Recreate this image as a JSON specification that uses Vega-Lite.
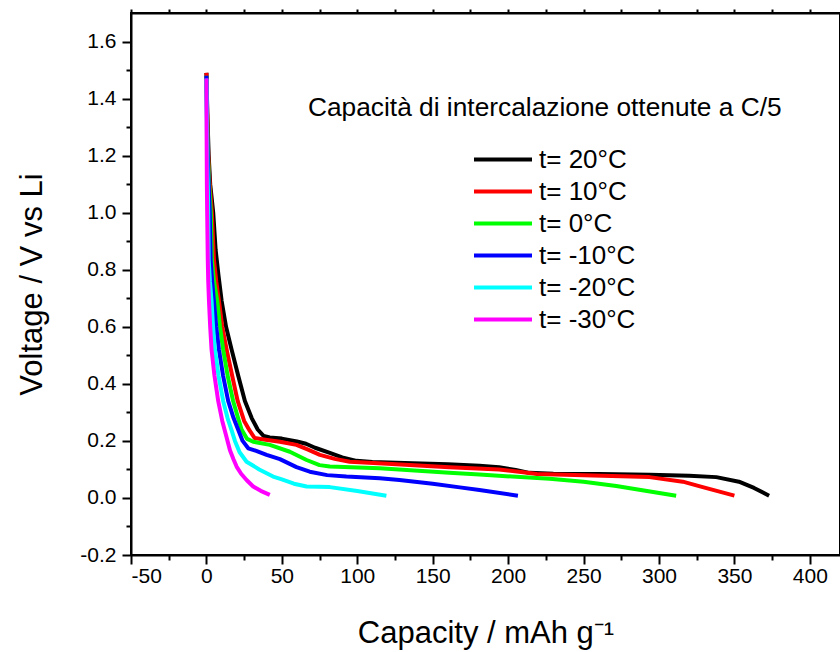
{
  "$schema": "https://vega.github.io/schema/vega-lite/v6.json",
  "width": 709,
  "height": 542,
  "autosize": {"type": "none"},
  "padding": {"left": 131, "top": 13, "right": 0, "bottom": 97},
  "background": "white",
  "config": {
    "view": {"stroke": "black", "strokeWidth": 2},
    "font": "Liberation Sans",
    "axis": {"grid": false, "domainColor": "black", "domainWidth": 2, "tickColor": "black", "tickWidth": 2, "labelColor": "black", "titleColor": "black", "labelFont": "Liberation Sans", "titleFont": "Liberation Sans", "titleFontWeight": "normal"}
  },
  "title": {"text": "Capacità di intercalazione ottenute a C/5", "anchor": "start", "frame": "group", "orient": "top", "offset": 0, "dx": 177, "dy": 134, "baseline": "alphabetic", "fontSize": 26.3, "fontWeight": "normal", "font": "Liberation Sans", "color": "black"},
  "data": {"values": [
    {"series": "t= 20°C", "capacity": 0, "voltage": 1.49},
    {"series": "t= 20°C", "capacity": 0.6, "voltage": 1.35},
    {"series": "t= 20°C", "capacity": 1.5, "voltage": 1.2},
    {"series": "t= 20°C", "capacity": 2.5, "voltage": 1.1},
    {"series": "t= 20°C", "capacity": 4.5, "voltage": 1.0},
    {"series": "t= 20°C", "capacity": 6.1, "voltage": 0.87},
    {"series": "t= 20°C", "capacity": 8, "voltage": 0.78},
    {"series": "t= 20°C", "capacity": 10.1, "voltage": 0.69},
    {"series": "t= 20°C", "capacity": 13, "voltage": 0.6},
    {"series": "t= 20°C", "capacity": 16.7, "voltage": 0.52},
    {"series": "t= 20°C", "capacity": 21, "voltage": 0.43},
    {"series": "t= 20°C", "capacity": 25.5, "voltage": 0.34},
    {"series": "t= 20°C", "capacity": 30, "voltage": 0.28},
    {"series": "t= 20°C", "capacity": 34, "voltage": 0.24},
    {"series": "t= 20°C", "capacity": 38, "voltage": 0.217},
    {"series": "t= 20°C", "capacity": 42, "voltage": 0.212},
    {"series": "t= 20°C", "capacity": 50, "voltage": 0.208},
    {"series": "t= 20°C", "capacity": 60, "voltage": 0.198},
    {"series": "t= 20°C", "capacity": 66, "voltage": 0.19},
    {"series": "t= 20°C", "capacity": 72, "voltage": 0.176},
    {"series": "t= 20°C", "capacity": 81.8, "voltage": 0.158},
    {"series": "t= 20°C", "capacity": 90, "voltage": 0.142},
    {"series": "t= 20°C", "capacity": 99.5, "voltage": 0.13},
    {"series": "t= 20°C", "capacity": 110, "voltage": 0.126},
    {"series": "t= 20°C", "capacity": 136.8, "voltage": 0.122},
    {"series": "t= 20°C", "capacity": 160, "voltage": 0.118},
    {"series": "t= 20°C", "capacity": 181, "voltage": 0.113},
    {"series": "t= 20°C", "capacity": 194, "voltage": 0.108},
    {"series": "t= 20°C", "capacity": 205, "voltage": 0.098},
    {"series": "t= 20°C", "capacity": 214, "voltage": 0.088},
    {"series": "t= 20°C", "capacity": 230, "voltage": 0.085},
    {"series": "t= 20°C", "capacity": 260, "voltage": 0.084},
    {"series": "t= 20°C", "capacity": 293.7, "voltage": 0.081},
    {"series": "t= 20°C", "capacity": 320, "voltage": 0.078},
    {"series": "t= 20°C", "capacity": 338, "voltage": 0.073},
    {"series": "t= 20°C", "capacity": 353, "voltage": 0.057},
    {"series": "t= 20°C", "capacity": 363, "voltage": 0.035},
    {"series": "t= 20°C", "capacity": 373, "voltage": 0.008},

    {"series": "t= 10°C", "capacity": 0, "voltage": 1.49},
    {"series": "t= 10°C", "capacity": 0.5, "voltage": 1.35},
    {"series": "t= 10°C", "capacity": 1.2, "voltage": 1.2},
    {"series": "t= 10°C", "capacity": 2.2, "voltage": 1.1},
    {"series": "t= 10°C", "capacity": 3.6, "voltage": 1.0},
    {"series": "t= 10°C", "capacity": 5, "voltage": 0.834},
    {"series": "t= 10°C", "capacity": 6.5, "voltage": 0.76},
    {"series": "t= 10°C", "capacity": 8.3, "voltage": 0.69},
    {"series": "t= 10°C", "capacity": 10.5, "voltage": 0.6},
    {"series": "t= 10°C", "capacity": 13.4, "voltage": 0.52},
    {"series": "t= 10°C", "capacity": 17, "voltage": 0.43},
    {"series": "t= 10°C", "capacity": 20.7, "voltage": 0.34},
    {"series": "t= 10°C", "capacity": 25, "voltage": 0.27},
    {"series": "t= 10°C", "capacity": 28.8, "voltage": 0.235},
    {"series": "t= 10°C", "capacity": 32, "voltage": 0.21},
    {"series": "t= 10°C", "capacity": 38, "voltage": 0.205},
    {"series": "t= 10°C", "capacity": 48.7, "voltage": 0.197},
    {"series": "t= 10°C", "capacity": 59.7, "voltage": 0.186},
    {"series": "t= 10°C", "capacity": 67, "voltage": 0.17},
    {"series": "t= 10°C", "capacity": 75.2, "voltage": 0.151},
    {"series": "t= 10°C", "capacity": 85, "voltage": 0.137},
    {"series": "t= 10°C", "capacity": 95, "voltage": 0.127},
    {"series": "t= 10°C", "capacity": 120, "voltage": 0.12},
    {"series": "t= 10°C", "capacity": 161, "voltage": 0.108},
    {"series": "t= 10°C", "capacity": 194, "voltage": 0.1},
    {"series": "t= 10°C", "capacity": 210, "voltage": 0.09},
    {"series": "t= 10°C", "capacity": 219, "voltage": 0.084},
    {"series": "t= 10°C", "capacity": 250, "voltage": 0.08},
    {"series": "t= 10°C", "capacity": 293.7, "voltage": 0.073},
    {"series": "t= 10°C", "capacity": 315.8, "voltage": 0.057},
    {"series": "t= 10°C", "capacity": 329, "voltage": 0.038},
    {"series": "t= 10°C", "capacity": 350, "voltage": 0.008},

    {"series": "t= 0°C", "capacity": 0, "voltage": 1.48},
    {"series": "t= 0°C", "capacity": 0.4, "voltage": 1.35},
    {"series": "t= 0°C", "capacity": 1, "voltage": 1.2},
    {"series": "t= 0°C", "capacity": 1.8, "voltage": 1.1},
    {"series": "t= 0°C", "capacity": 2.9, "voltage": 1.0},
    {"series": "t= 0°C", "capacity": 3.6, "voltage": 0.834},
    {"series": "t= 0°C", "capacity": 5, "voltage": 0.76},
    {"series": "t= 0°C", "capacity": 7.2, "voltage": 0.69},
    {"series": "t= 0°C", "capacity": 9, "voltage": 0.6},
    {"series": "t= 0°C", "capacity": 11.1, "voltage": 0.52},
    {"series": "t= 0°C", "capacity": 14, "voltage": 0.43},
    {"series": "t= 0°C", "capacity": 17.7, "voltage": 0.34},
    {"series": "t= 0°C", "capacity": 21, "voltage": 0.28},
    {"series": "t= 0°C", "capacity": 23.3, "voltage": 0.24},
    {"series": "t= 0°C", "capacity": 27, "voltage": 0.207},
    {"series": "t= 0°C", "capacity": 31, "voltage": 0.197},
    {"series": "t= 0°C", "capacity": 42, "voltage": 0.186},
    {"series": "t= 0°C", "capacity": 55.3, "voltage": 0.162},
    {"series": "t= 0°C", "capacity": 66.4, "voltage": 0.133},
    {"series": "t= 0°C", "capacity": 75, "voltage": 0.115},
    {"series": "t= 0°C", "capacity": 81.8, "voltage": 0.11},
    {"series": "t= 0°C", "capacity": 114.9, "voltage": 0.104},
    {"series": "t= 0°C", "capacity": 161, "voltage": 0.088},
    {"series": "t= 0°C", "capacity": 181, "voltage": 0.082},
    {"series": "t= 0°C", "capacity": 227.5, "voltage": 0.067},
    {"series": "t= 0°C", "capacity": 250, "voltage": 0.057},
    {"series": "t= 0°C", "capacity": 271.7, "voltage": 0.042},
    {"series": "t= 0°C", "capacity": 290, "voltage": 0.026},
    {"series": "t= 0°C", "capacity": 311.4, "voltage": 0.008},

    {"series": "t= -10°C", "capacity": 0, "voltage": 1.48},
    {"series": "t= -10°C", "capacity": 0.3, "voltage": 1.35},
    {"series": "t= -10°C", "capacity": 0.8, "voltage": 1.2},
    {"series": "t= -10°C", "capacity": 1.5, "voltage": 1.1},
    {"series": "t= -10°C", "capacity": 2.2, "voltage": 1.0},
    {"series": "t= -10°C", "capacity": 2.8, "voltage": 0.834},
    {"series": "t= -10°C", "capacity": 3.8, "voltage": 0.76},
    {"series": "t= -10°C", "capacity": 5, "voltage": 0.69},
    {"series": "t= -10°C", "capacity": 6.5, "voltage": 0.6},
    {"series": "t= -10°C", "capacity": 8.3, "voltage": 0.52},
    {"series": "t= -10°C", "capacity": 11, "voltage": 0.43},
    {"series": "t= -10°C", "capacity": 14.4, "voltage": 0.34},
    {"series": "t= -10°C", "capacity": 18, "voltage": 0.28},
    {"series": "t= -10°C", "capacity": 21, "voltage": 0.24},
    {"series": "t= -10°C", "capacity": 24, "voltage": 0.2},
    {"series": "t= -10°C", "capacity": 27.7, "voltage": 0.174},
    {"series": "t= -10°C", "capacity": 33, "voltage": 0.165},
    {"series": "t= -10°C", "capacity": 39.9, "voltage": 0.151},
    {"series": "t= -10°C", "capacity": 48.7, "voltage": 0.136},
    {"series": "t= -10°C", "capacity": 59.7, "voltage": 0.108},
    {"series": "t= -10°C", "capacity": 68.5, "voltage": 0.092},
    {"series": "t= -10°C", "capacity": 80, "voltage": 0.08},
    {"series": "t= -10°C", "capacity": 92.8, "voltage": 0.075},
    {"series": "t= -10°C", "capacity": 114.9, "voltage": 0.069},
    {"series": "t= -10°C", "capacity": 128, "voltage": 0.063},
    {"series": "t= -10°C", "capacity": 150, "voltage": 0.05},
    {"series": "t= -10°C", "capacity": 168, "voltage": 0.037},
    {"series": "t= -10°C", "capacity": 181, "voltage": 0.028},
    {"series": "t= -10°C", "capacity": 206.5, "voltage": 0.008},

    {"series": "t= -20°C", "capacity": 0, "voltage": 1.47},
    {"series": "t= -20°C", "capacity": 0.2, "voltage": 1.35},
    {"series": "t= -20°C", "capacity": 0.5, "voltage": 1.2},
    {"series": "t= -20°C", "capacity": 0.9, "voltage": 1.1},
    {"series": "t= -20°C", "capacity": 1.2, "voltage": 1.0},
    {"series": "t= -20°C", "capacity": 1.5, "voltage": 0.834},
    {"series": "t= -20°C", "capacity": 2.3, "voltage": 0.76},
    {"series": "t= -20°C", "capacity": 3.4, "voltage": 0.69},
    {"series": "t= -20°C", "capacity": 4.4, "voltage": 0.6},
    {"series": "t= -20°C", "capacity": 5.6, "voltage": 0.52},
    {"series": "t= -20°C", "capacity": 8, "voltage": 0.43},
    {"series": "t= -20°C", "capacity": 11.1, "voltage": 0.34},
    {"series": "t= -20°C", "capacity": 14, "voltage": 0.28},
    {"series": "t= -20°C", "capacity": 16.5, "voltage": 0.24},
    {"series": "t= -20°C", "capacity": 18.9, "voltage": 0.2},
    {"series": "t= -20°C", "capacity": 22, "voltage": 0.16},
    {"series": "t= -20°C", "capacity": 26.6, "voltage": 0.127},
    {"series": "t= -20°C", "capacity": 35, "voltage": 0.1},
    {"series": "t= -20°C", "capacity": 44.2, "voltage": 0.075},
    {"series": "t= -20°C", "capacity": 50, "voltage": 0.065},
    {"series": "t= -20°C", "capacity": 58, "voltage": 0.05},
    {"series": "t= -20°C", "capacity": 66.4, "voltage": 0.04},
    {"series": "t= -20°C", "capacity": 81.8, "voltage": 0.038},
    {"series": "t= -20°C", "capacity": 100, "voltage": 0.024},
    {"series": "t= -20°C", "capacity": 119.3, "voltage": 0.008},

    {"series": "t= -30°C", "capacity": 0, "voltage": 1.47},
    {"series": "t= -30°C", "capacity": 0.1, "voltage": 1.3},
    {"series": "t= -30°C", "capacity": 0.3, "voltage": 1.1},
    {"series": "t= -30°C", "capacity": 0.5, "voltage": 1.0},
    {"series": "t= -30°C", "capacity": 0.9, "voltage": 0.834},
    {"series": "t= -30°C", "capacity": 1.2, "voltage": 0.76},
    {"series": "t= -30°C", "capacity": 1.7, "voltage": 0.69},
    {"series": "t= -30°C", "capacity": 2.5, "voltage": 0.6},
    {"series": "t= -30°C", "capacity": 3.4, "voltage": 0.52},
    {"series": "t= -30°C", "capacity": 5.3, "voltage": 0.43},
    {"series": "t= -30°C", "capacity": 7.8, "voltage": 0.34},
    {"series": "t= -30°C", "capacity": 10.5, "voltage": 0.27},
    {"series": "t= -30°C", "capacity": 13, "voltage": 0.22},
    {"series": "t= -30°C", "capacity": 15.6, "voltage": 0.167},
    {"series": "t= -30°C", "capacity": 18, "voltage": 0.135},
    {"series": "t= -30°C", "capacity": 20, "voltage": 0.11},
    {"series": "t= -30°C", "capacity": 23, "voltage": 0.085},
    {"series": "t= -30°C", "capacity": 26.6, "voltage": 0.063},
    {"series": "t= -30°C", "capacity": 31, "voltage": 0.04},
    {"series": "t= -30°C", "capacity": 36, "voltage": 0.025},
    {"series": "t= -30°C", "capacity": 42, "voltage": 0.011}
  ]},
  "resolve": {"axis": {"x": "independent", "y": "independent"}},
  "layer": [
    {
      "mark": {"type": "line", "strokeWidth": 4, "strokeJoin": "round"},
      "encoding": {
        "x": {"field": "capacity", "type": "quantitative", "scale": {"domain": [-50, 420], "nice": false, "zero": false},
          "axis": {"orient": "bottom", "values": [-50, 0, 50, 100, 150, 200, 250, 300, 350, 400], "labelExpr": "replace(format(datum.value, 'd'), '\u2212', '-')", "tickSize": 9, "labelPadding": 1, "labelFontSize": 21, "title": "Capacity / mAh g⁻¹", "titleFontSize": 31, "titlePadding": 32}},
        "y": {"field": "voltage", "type": "quantitative", "scale": {"domain": [-0.2, 1.7], "nice": false, "zero": false},
          "axis": {"orient": "left", "values": [-0.2, 0, 0.2, 0.4, 0.6, 0.8, 1.0, 1.2, 1.4, 1.6], "labelExpr": "replace(format(datum.value, '.1f'), '\u2212', '-')", "tickSize": 9, "labelPadding": 6, "labelFontSize": 21, "title": "Voltage / V vs Li", "titleFontSize": 31, "titlePadding": 31}},
        "color": {"field": "series", "type": "nominal",
          "scale": {"domain": ["t= 20°C", "t= 10°C", "t= 0°C", "t= -10°C", "t= -20°C", "t= -30°C"], "range": ["#000000", "#ff0000", "#00ff00", "#0000ff", "#00ffff", "#ff00ff"]},
          "legend": {"orient": "none", "legendX": 370, "legendY": 130, "title": null, "padding": 0, "symbolType": "M-3,0H1", "symbolSize": 841, "symbolStrokeWidth": 4, "labelFontSize": 26, "labelFont": "Liberation Sans", "labelColor": "black", "labelOffset": 5, "rowPadding": 2}}
      }
    },
    {
      "mark": {"type": "point", "opacity": 0, "size": 0},
      "encoding": {
        "x": {"field": "capacity", "type": "quantitative", "axis": {"orient": "bottom", "values": [-25, 25, 75, 125, 175, 225, 275, 325, 375], "labels": false, "tickSize": 5, "domain": false, "title": null}},
        "y": {"field": "voltage", "type": "quantitative", "axis": {"orient": "left", "values": [-0.1, 0.1, 0.3, 0.5, 0.7, 0.9, 1.1, 1.3, 1.5], "labels": false, "tickSize": 5, "domain": false, "title": null}}
      }
    },
    {
      "mark": {"type": "point", "opacity": 0, "size": 0},
      "encoding": {
        "x": {"field": "capacity", "type": "quantitative", "axis": {"orient": "top", "values": [-50, -25, 0, 25, 50, 75, 100, 125, 150, 175, 200, 225, 250, 275, 300, 325, 350, 375, 400], "labels": false, "tickSize": 4, "title": null}}
      }
    }
  ]
}
